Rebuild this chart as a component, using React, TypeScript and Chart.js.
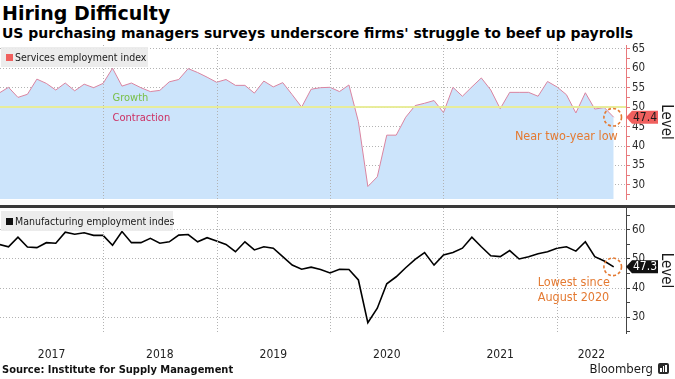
import React, { useEffect, useRef } from "react";
import { Chart, registerables } from "chart.js";

Chart.register(...registerables);

// ---- data (monthly, Jan 2017 .. Jun 2022) ----
const yearLabels = ["2017", "2018", "2019", "2020", "2021", "2022"];
const yearStarts = [0, 12, 24, 36, 48, 60]; // months since 1 Jan 2017
const X_MIN = 1.1;
const X_MAX = 67.3;

const services = [
  53.6, 55.1, 52.5, 53.3, 57.2, 56.1, 54.4, 56.2, 54.2, 55.9, 55.0, 56.1,
  60.0, 55.4, 56.2, 55.0, 54.0, 54.3, 56.5, 57.1, 59.9, 58.9, 57.7, 56.4,
  57.1, 55.6, 55.6, 53.6, 56.7, 55.2, 56.3, 53.2, 50.0, 54.6, 55.0, 55.1,
  54.0, 55.7, 46.3, 29.6, 32.1, 42.8, 42.8, 47.4, 50.4, 51.0, 51.7, 48.6,
  55.1, 52.8, 55.2, 57.5, 54.4, 49.6, 53.8, 53.8, 53.8, 52.8, 56.6, 55.2,
  53.2, 48.5, 53.7, 49.5, 49.9, 47.4,
];

const manufacturing = [
  55.0, 54.2, 57.5, 54.1, 53.9, 55.6, 55.4, 59.2, 58.5, 59.0, 58.1, 58.1,
  54.7, 59.4, 55.6, 55.6, 57.1, 55.4, 55.9, 58.2, 58.4, 55.9, 57.3, 56.2,
  55.0, 52.5, 55.9, 53.1, 54.2, 53.7, 50.8, 47.9, 46.5, 47.2, 46.4, 45.2,
  46.5, 46.4, 42.8, 28.1, 33.1, 41.5, 43.9, 47.0, 49.9, 52.2, 47.9, 51.4,
  52.2, 53.7, 57.5, 54.2, 51.1, 50.8, 52.9, 50.0, 50.8, 51.8, 52.5, 53.7,
  54.2, 52.7, 55.9, 50.8, 49.3, 47.3,
];

const servicesTickValues = [27.5, 30, 32.5, 35, 37.5, 40, 42.5, 45, 47.5, 50, 52.5, 55, 57.5, 60, 62.5, 65];
const manufacturingTickValues = [25, 30, 35, 40, 45, 50, 55, 60, 65];
const servicesRange = [26.36, 65.97];
const manufacturingRange = [24.6, 67.5];
const thresholdValue = 50;

const servicesLabel = "Services employment index";
const manufacturingLabel = "Manufacturing employment indes";
const servicesNote = ["Near two-year low"];
const manufacturingNote = ["Lowest since", "August 2020"];

// ---- styles ----
const COND = '"DejaVu Sans Condensed", "Liberation Sans Narrow", Roboto, sans-serif';
const WIDE = '"DejaVu Sans", Verdana, sans-serif';
const GRID = "rgba(175,175,175,0.95)";
const ORANGE = "#e47a32";

const toPoints = (arr: number[]) => arr.map((v, i) => ({ x: i + 1, y: v }));

function yearCenters(min: number, max: number) {
  return yearStarts.map((s) => {
    const a = Math.max(min, s);
    const b = Math.min(max, s + 12);
    return (a + b) / 2;
  });
}

function drawYearGrid(chart: any) {
  const { ctx, chartArea, scales } = chart;
  const xs = scales.x;
  ctx.save();
  ctx.strokeStyle = GRID;
  ctx.lineWidth = 1;
  ctx.setLineDash([1, 2]);
  for (const s of yearStarts) {
    if (s <= X_MIN || s >= X_MAX) continue;
    const px = Math.round(xs.getPixelForValue(s)) + 0.5;
    ctx.beginPath();
    ctx.moveTo(px, chartArea.top);
    ctx.lineTo(px, chartArea.bottom);
    ctx.stroke();
  }
  ctx.restore();
}

function drawTag(chart: any, value: number, fill: string, textColor: string) {
  const { ctx, chartArea, scales } = chart;
  const yc = scales.y.getPixelForValue(value);
  const x0 = chartArea.right;
  const h = 6.5;
  ctx.save();
  ctx.beginPath();
  ctx.moveTo(x0, yc);
  ctx.lineTo(x0 + 6, yc - h);
  ctx.lineTo(x0 + 32, yc - h);
  ctx.lineTo(x0 + 32, yc + h);
  ctx.lineTo(x0 + 6, yc + h);
  ctx.closePath();
  ctx.fillStyle = fill;
  ctx.fill();
  ctx.fillStyle = textColor;
  ctx.font = `12px ${COND}`;
  ctx.textAlign = "center";
  ctx.textBaseline = "middle";
  ctx.fillText(value.toFixed(1), x0 + 19, yc + 0.5);
  ctx.restore();
}

function drawCircle(chart: any, xv: number, yv: number) {
  const { ctx, scales } = chart;
  const px = scales.x.getPixelForValue(xv);
  const py = scales.y.getPixelForValue(yv);
  ctx.save();
  ctx.strokeStyle = ORANGE;
  ctx.lineWidth = 1.6;
  ctx.setLineDash([3, 2.2]);
  ctx.beginPath();
  ctx.arc(px - 1, py, 8.8, 0, Math.PI * 2);
  ctx.stroke();
  ctx.restore();
  return { px, py };
}

const topPlugin = {
  id: "topDecor",
  afterDatasetsDraw(chart: any) {
    const { ctx, chartArea, scales } = chart;
    drawYearGrid(chart);
    const y50 = Math.round(scales.y.getPixelForValue(thresholdValue));
    ctx.save();
    ctx.strokeStyle = "rgba(232,236,150,0.95)";
    ctx.lineWidth = 2;
    ctx.beginPath();
    ctx.moveTo(chartArea.left, y50);
    ctx.lineTo(chartArea.right, y50);
    ctx.stroke();
    const lx = scales.x.getPixelForValue(13);
    ctx.font = `11px ${COND}`;
    ctx.textAlign = "left";
    ctx.fillStyle = "#78bf45";
    ctx.textBaseline = "alphabetic";
    ctx.fillText("Growth", lx, y50 - 6.5);
    ctx.fillStyle = "#cc2f62";
    ctx.textBaseline = "top";
    ctx.fillText("Contraction", lx, y50 + 6);
    ctx.restore();
  },
  afterDraw(chart: any) {
    const { ctx } = chart;
    const last = services.length;
    const { px, py } = drawCircle(chart, last, services[last - 1]);
    drawTag(chart, services[last - 1], "#f0605e", "#1a1a1a");
    ctx.save();
    ctx.fillStyle = ORANGE;
    ctx.font = `12.5px ${COND}`;
    ctx.textAlign = "right";
    ctx.textBaseline = "middle";
    ctx.fillText(servicesNote[0], px + 4, py + 19.5);
    ctx.restore();
  },
};

const bottomPlugin = {
  id: "bottomDecor",
  afterDatasetsDraw(chart: any) {
    drawYearGrid(chart);
  },
  afterDraw(chart: any) {
    const { ctx } = chart;
    const last = manufacturing.length;
    const { px, py } = drawCircle(chart, last, manufacturing[last - 1]);
    drawTag(chart, manufacturing[last - 1], "#111111", "#ffffff");
    ctx.save();
    ctx.fillStyle = ORANGE;
    ctx.font = `12.5px ${COND}`;
    ctx.textAlign = "left";
    ctx.textBaseline = "middle";
    ctx.fillText(manufacturingNote[0], px - 76, py + 16);
    ctx.fillText(manufacturingNote[1], px - 76, py + 31);
    ctx.restore();
  },
};

function yScale(range: number[], tickValues: number[], labelEvery: number, gridEvery: number, axisColor: string) {
  return {
    type: "linear",
    position: "right",
    min: range[0],
    max: range[1],
    z: 1,
    afterBuildTicks: (scale: any) => {
      scale.ticks = tickValues.map((v) => ({ value: v }));
    },
    afterFit: (scale: any) => {
      scale.width = 49;
    },
    ticks: {
      autoSkip: false,
      padding: 2,
      color: "#2a2a2a",
      font: { family: COND, size: 11.5 },
      callback: (v: any) => (Math.abs(v % labelEvery) < 1e-6 ? String(v) : ""),
    },
    grid: {
      drawOnChartArea: true,
      drawTicks: true,
      tickLength: 4,
      tickColor: axisColor,
      tickBorderDash: [],
      color: (c: any) =>
        c.tick && Math.abs(c.tick.value % gridEvery) < 1e-6 ? GRID : "rgba(0,0,0,0)",
    },
    border: { display: true, color: axisColor, width: 1, dash: [1, 2] },
    title: {
      display: true,
      text: "Level",
      color: "#1a1a1a",
      font: { family: COND, size: 15 },
      padding: 0,
    },
  };
}

function TopChart() {
  const ref = useRef<HTMLCanvasElement | null>(null);
  useEffect(() => {
    if (!ref.current) return;
    const chart = new Chart(ref.current, {
      type: "line",
      data: {
        datasets: [
          {
            label: servicesLabel,
            data: toPoints(services),
            borderColor: "rgb(218,132,160)",
            borderWidth: 1,
            backgroundColor: "rgb(204,228,251)",
            fill: "start",
            pointRadius: 0,
            tension: 0,
          },
        ],
      },
      options: {
        animation: false,
        responsive: false,
        events: [],
        layout: { padding: { top: 15, bottom: 3, left: 0, right: 0 } },
        plugins: { legend: { display: false }, tooltip: { enabled: false } },
        scales: {
          x: { type: "linear", min: X_MIN, max: X_MAX, display: false },
          y: yScale(servicesRange, servicesTickValues, 5, 5, "#e8797c") as any,
        },
      },
      plugins: [topPlugin],
    });
    return () => chart.destroy();
  }, []);
  return <canvas ref={ref} width={675} height={178} style={{ position: "absolute", left: 0, top: 30 }} />;
}

function BottomChart() {
  const ref = useRef<HTMLCanvasElement | null>(null);
  useEffect(() => {
    if (!ref.current) return;
    const centers = yearCenters(X_MIN, X_MAX);
    const chart = new Chart(ref.current, {
      type: "line",
      data: {
        datasets: [
          {
            label: manufacturingLabel,
            data: toPoints(manufacturing),
            borderColor: "#000000",
            borderWidth: 1.6,
            fill: false,
            pointRadius: 0,
            tension: 0,
          },
        ],
      },
      options: {
        animation: false,
        responsive: false,
        events: [],
        layout: { padding: { top: 10, bottom: 0, left: 0, right: 0 } },
        plugins: { legend: { display: false }, tooltip: { enabled: false } },
        scales: {
          x: {
            type: "linear",
            min: X_MIN,
            max: X_MAX,
            afterBuildTicks: (scale: any) => {
              scale.ticks = centers.map((v) => ({ value: v }));
            },
            afterFit: (scale: any) => {
              scale.height = 46;
            },
            ticks: {
              autoSkip: false,
              maxRotation: 0,
              padding: 15,
              color: "#222222",
              font: { family: COND, size: 12 },
              callback: (_v: any, i: number) => yearLabels[i],
            },
            grid: { display: false, drawTicks: false },
            border: { display: false },
          },
          y: yScale(manufacturingRange, manufacturingTickValues, 10, 10, "#444444") as any,
        },
      },
      plugins: [bottomPlugin],
    });
    return () => chart.destroy();
  }, []);
  return <canvas ref={ref} width={675} height={181} style={{ position: "absolute", left: 0, top: 198 }} />;
}

function LegendBox(props: { top: number; width: number; color: string; text: string }) {
  return (
    <div
      style={{
        position: "absolute",
        left: 1,
        top: props.top,
        width: props.width,
        height: 20,
        background: "rgba(234,234,234,0.92)",
      }}
    >
      <div style={{ position: "absolute", left: 5, top: 7, width: 7, height: 7, background: props.color }} />
      <div
        style={{
          position: "absolute",
          left: 14,
          top: 3,
          fontFamily: COND,
          fontSize: 10.5,
          lineHeight: "14px",
          color: "#1a1a1a",
          whiteSpace: "nowrap",
        }}
      >
        {props.text}
      </div>
    </div>
  );
}

export default function App() {
  useEffect(() => {
    document.body.style.margin = "0";
  }, []);
  return (
    <div
      style={{
        position: "absolute",
        left: 0,
        top: 0,
        width: 675,
        height: 379,
        background: "#ffffff",
        overflow: "hidden",
      }}
    >
      <div
        style={{
          position: "absolute",
          left: 2,
          top: 4,
          fontFamily: WIDE,
          fontWeight: "bold",
          fontSize: 19,
          lineHeight: 1,
          color: "#000",
          whiteSpace: "nowrap",
        }}
      >
        Hiring Difficulty
      </div>
      <div
        style={{
          position: "absolute",
          left: 2,
          top: 26,
          fontFamily: WIDE,
          fontWeight: "bold",
          fontSize: 14,
          lineHeight: 1,
          color: "#000",
          whiteSpace: "nowrap",
        }}
      >
        US purchasing managers surveys underscore firms' struggle to beef up payrolls
      </div>
      <TopChart />
      <BottomChart />
      <div style={{ position: "absolute", left: 0, top: 205, width: 675, height: 3, background: "#3a3a3a" }} />
      <LegendBox top={47} width={147} color="#f0605e" text={servicesLabel} />
      <LegendBox top={211} width={172} color="#111" text={manufacturingLabel} />
      <div
        style={{
          position: "absolute",
          left: 2,
          top: 364,
          fontFamily: COND,
          fontWeight: "bold",
          fontSize: 11,
          lineHeight: 1,
          color: "#111",
          whiteSpace: "nowrap",
        }}
      >
        Source: Institute for Supply Management
      </div>
      <div
        style={{
          position: "absolute",
          right: 22,
          top: 362,
          fontFamily: COND,
          fontSize: 13,
          lineHeight: 1,
          color: "#1a1a1a",
          whiteSpace: "nowrap",
        }}
      >
        Bloomberg
      </div>
      <div
        style={{
          position: "absolute",
          left: 658,
          top: 363,
          width: 11,
          height: 11,
          borderRadius: 2,
          background: "#2a2a2a",
        }}
      >
        <div style={{ position: "absolute", left: 2, top: 5, width: 1.5, height: 4, background: "#fff" }} />
        <div style={{ position: "absolute", left: 4.5, top: 3, width: 1.5, height: 6, background: "#fff" }} />
        <div style={{ position: "absolute", left: 7, top: 2, width: 1.5, height: 7, background: "#fff" }} />
      </div>
    </div>
  );
}
